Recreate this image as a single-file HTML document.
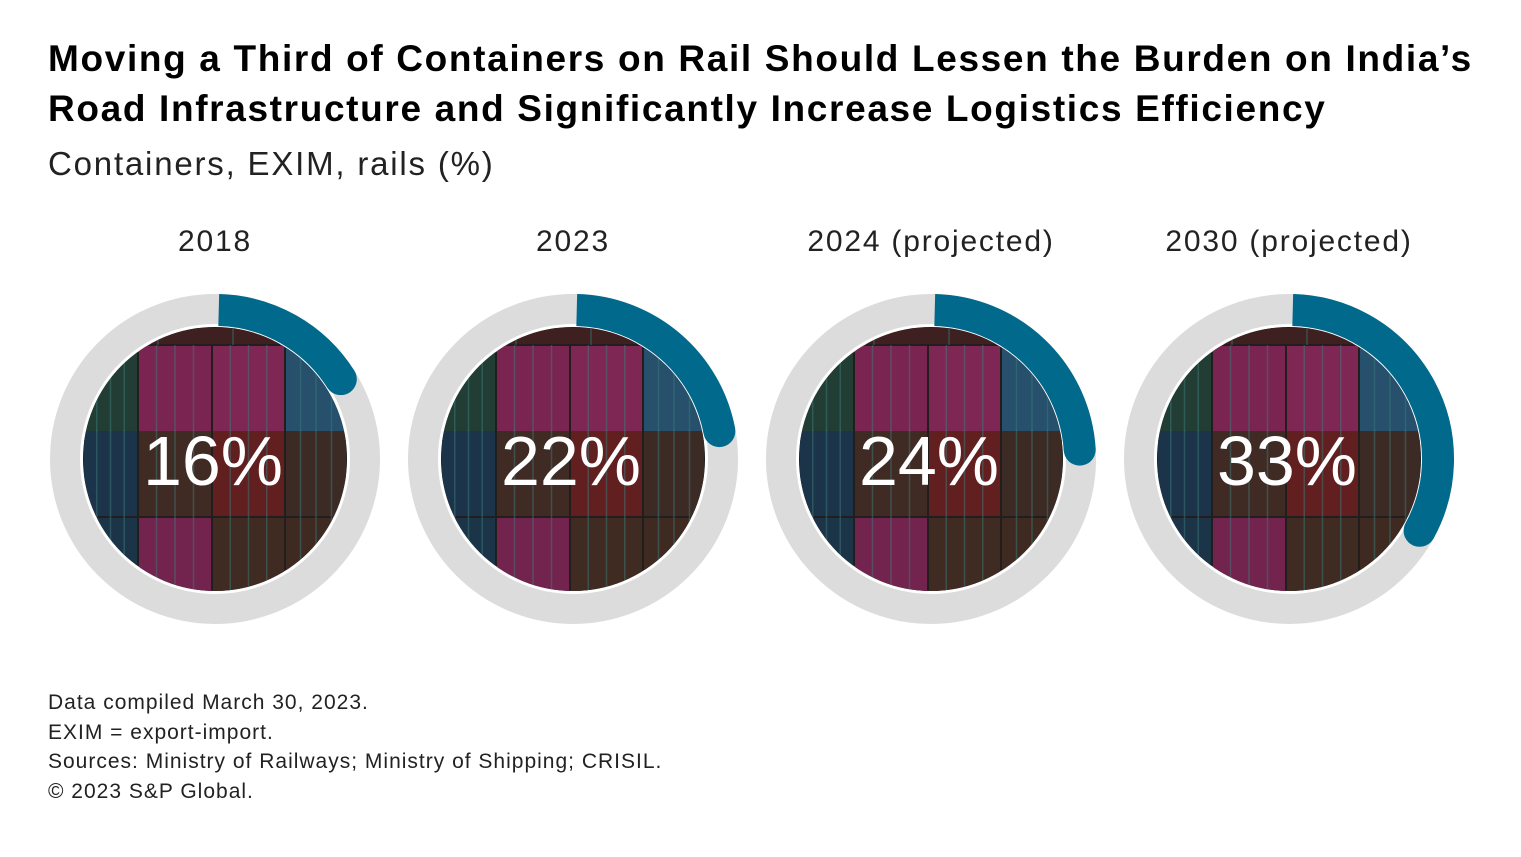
<!DOCTYPE html>
<html><head><meta charset="utf-8"><style>
body{margin:0;width:1521px;height:857px;background:#fff;font-family:"Liberation Sans",sans-serif;color:#000;overflow:hidden;position:relative}
.t{position:absolute;left:48px;white-space:nowrap}
</style></head><body>
<div class="t" style="top:34px;font-size:37px;font-weight:bold;line-height:50px;letter-spacing:1.65px">Moving a Third of Containers on Rail Should Lessen the Burden on India’s<br>Road Infrastructure and Significantly Increase Logistics Efficiency</div>
<div class="t" style="top:145px;font-size:33px;color:#222;letter-spacing:1.8px">Containers, EXIM, rails (%)</div>
<svg id="chart" style="position:absolute;left:0;top:0" width="1521" height="857"></svg>
<div class="t" style="top:688px;font-size:21px;line-height:29.5px;color:#222;letter-spacing:1px">Data compiled March 30, 2023.<br>EXIM = export-import.<br>Sources: Ministry of Railways; Ministry of Shipping; CRISIL.<br>© 2023 S&amp;P Global.</div>
<script>
const categories=["2018","2023","2024 (projected)","2030 (projected)"];
const values=[16,22,24,33];
const ns="http://www.w3.org/2000/svg";
const svg=document.getElementById("chart");
function mk(t,a,p){const e=document.createElementNS(ns,t);for(const k in a)e.setAttribute(k,a[k]);(p||svg).appendChild(e);return e;}
const cy=459,R=150;
const defs=mk("defs",{});
const tiles=[
 [-132,-132,300,18,"#3e2020"],
 [-132,-114,55,104,"#223e34"],[-77,-114,74,104,"#7a2452"],[-3,-114,73,104,"#7e2654"],[70,-114,62,104,"#26506c"],
 [-132,-29,55,87,"#1b344a"],[-77,-29,74,87,"#402a24"],[-3,-29,73,87,"#621f20"],[70,-29,62,87,"#3c2a24"],
 [-132,58,55,80,"#1b3448"],[-77,58,74,80,"#72244e"],[-3,58,73,80,"#3f2b21"],[70,58,62,80,"#3e2a20"]
];
function cx(i){return 215+i*358;}
function angPt(x,pct,r){const a=pct/100*2*Math.PI;return [x+r*Math.sin(a),cy-r*Math.cos(a)];}
categories.forEach((c,i)=>{
  const x=cx(i);
  const lab=mk("text",{x:x,y:251,"text-anchor":"middle","font-size":30,fill:"#222","letter-spacing":"1.8","font-family":"Liberation Sans, sans-serif"});
  lab.textContent=c;
  
  
  const ring=mk("circle",{cx:x,cy:cy,r:R,fill:"none",stroke:"#dcdcdc","stroke-width":30});
  
  
  const cp=mk("clipPath",{id:"cp"+i},defs);
  mk("circle",{cx:x,cy:cy,r:132},cp);
  const g=mk("g",{"clip-path":"url(#cp"+i+")"});
  
  
  mk("rect",{x:x-135,y:cy-135,width:270,height:270,fill:"#221e1e"},g);
  tiles.forEach(t=>{
    mk("rect",{x:x+t[0]+1,y:cy+t[1]+1,width:t[2]-2,height:t[3]-2,fill:t[4]},g);
    for(let k=1;k<4;k++)mk("line",{x1:x+t[0]+t[2]*k/4,y1:cy+t[1],x2:x+t[0]+t[2]*k/4,y2:cy+t[1]+t[3],stroke:"rgba(60,120,120,0.5)","stroke-width":1.5},g);
  });
  const v=values[i];
  const s=angPt(x,0.4,149),e=angPt(x,v,149);
  const arc=mk("path",{d:`M${s[0]},${s[1]} A149,149 0 ${v>50?1:0} 1 ${e[0]},${e[1]}`,fill:"none",stroke:"#00698c","stroke-width":32});
  
  
  mk("circle",{cx:e[0],cy:e[1],r:16,fill:"#00698c"});
  const txt=mk("text",{x:x-2,y:cy+26,"text-anchor":"middle","font-size":70,fill:"#fff","font-family":"Liberation Sans, sans-serif"});
  txt.textContent=v+"%";
  
  
});
</script>
</body></html>
